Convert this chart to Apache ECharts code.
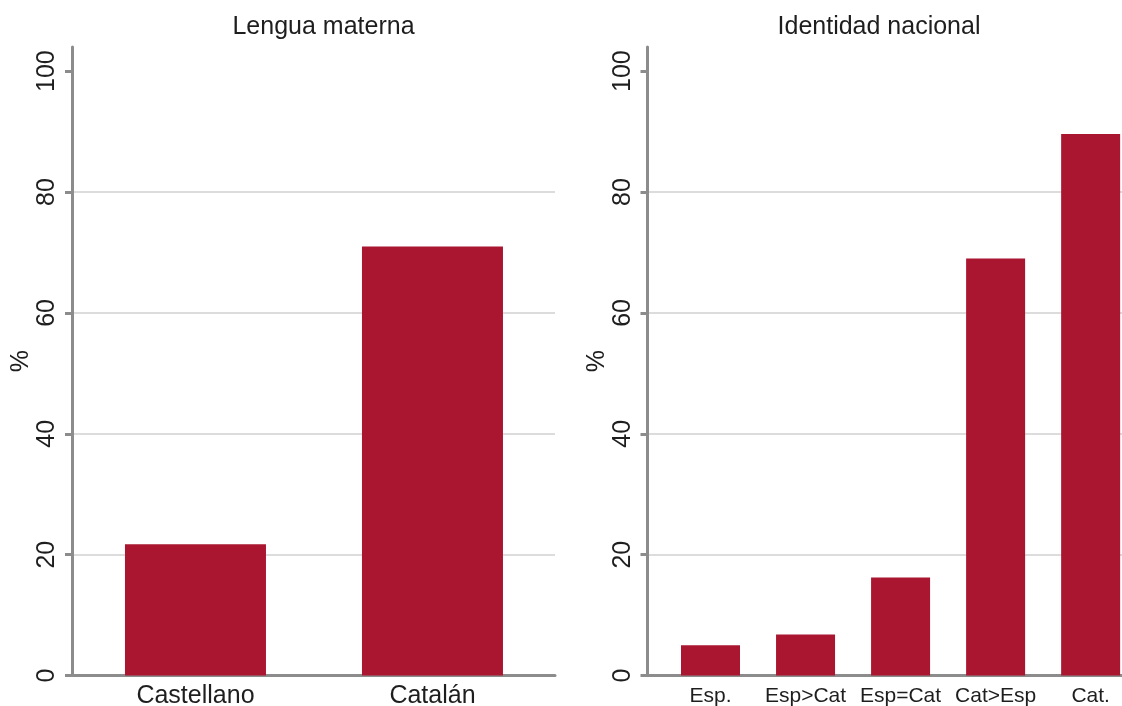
<!DOCTYPE html>
<html>
<head>
<meta charset="utf-8">
<script src="https://cdn.jsdelivr.net/npm/echarts@6/dist/echarts.min.js"></script>
<style>
html,body{margin:0;padding:0;background:#fff;}
#chart{width:1122px;height:706px;}
</style>
</head>
<body>
<div id="chart"></div>
<script>
// Data
const leftTitle = 'Lengua materna';
const rightTitle = 'Identidad nacional';
const leftCategories = ['Castellano', 'Catalán'];
const leftValues = [21.7, 71.0];
const rightCategories = ['Esp.', 'Esp>Cat', 'Esp=Cat', 'Cat>Esp', 'Cat.'];
const rightValues = [5.0, 6.8, 16.2, 69.0, 89.6];
const yTicks = [0, 20, 40, 60, 80, 100];
const yName = '%';

const FONT = "'Liberation Sans', Arial, Helvetica, sans-serif";
const BAR = '#AA162F';
const AXIS = '#8c8c8c';
const GRIDC = '#dcdcdc';
const TXT = '#1e1e1e';

function yAxisDef(gridIndex) {
  return {
    type: 'value', gridIndex: gridIndex, min: 0, max: 104, interval: 20,
    name: yName, nameLocation: 'middle', nameRotate: 90, nameGap: 38,
    nameTextStyle: {fontFamily: FONT, fontSize: 25, color: TXT},
    axisLine: {show: true, onZero: false, lineStyle: {color: AXIS, width: 3}},
    axisTick: {show: true, length: 7, customValues: yTicks, lineStyle: {color: AXIS, width: 3}},
    axisLabel: {customValues: yTicks, rotate: 90, margin: 12, fontFamily: FONT, fontSize: 25, color: TXT},
    splitLine: {show: true, showMinLine: false, showMaxLine: false,
      lineStyle: {color: [GRIDC, GRIDC, GRIDC, GRIDC, 'rgba(0,0,0,0)'], width: 2}}
  };
}

function xAxisDef(gridIndex, cats, min, max, fs, margin) {
  return {
    type: 'value', gridIndex: gridIndex, min: min, max: max,
    axisLine: {show: true, onZero: false, lineStyle: {color: AXIS, width: 3}},
    axisTick: {show: false},
    splitLine: {show: false},
    axisLabel: {
      customValues: cats.map((c, i) => i),
      formatter: v => cats[Math.round(v)] || '',
      fontFamily: FONT, fontSize: fs, color: TXT, margin: margin
    }
  };
}

const chart = echarts.init(document.getElementById('chart'), null, {renderer: 'canvas'});
chart.setOption({
  animation: false,
  backgroundColor: '#fff',
  grid: [
    {left: 72, right: 567, top: 47, bottom: 30.5, containLabel: false, outerBoundsMode: 'none'},
    {left: 647.5, right: 0, top: 47, bottom: 30.5, containLabel: false, outerBoundsMode: 'none'}
  ],
  xAxis: [
    xAxisDef(0, leftCategories, -0.521, 1.517, 25, 8),
    xAxisDef(1, rightCategories, -0.663, 4.33, 21, 10)
  ],
  yAxis: [yAxisDef(0), yAxisDef(1)],
  graphic: [
    {type: 'text', x: 323.5, y: 27.5, style: {text: leftTitle, align: 'center', verticalAlign: 'middle', font: '25px ' + FONT, fill: TXT}},
    {type: 'text', x: 879, y: 27.5, style: {text: rightTitle, align: 'center', verticalAlign: 'middle', font: '25px ' + FONT, fill: TXT}}
  ],
  series: [
    {type: 'bar', xAxisIndex: 0, yAxisIndex: 0, barWidth: 141,
     itemStyle: {color: BAR},
     data: leftValues.map((v, i) => [i, v])},
    {type: 'bar', xAxisIndex: 1, yAxisIndex: 1, barWidth: 59,
     itemStyle: {color: BAR},
     data: rightValues.map((v, i) => [i, v])}
  ]
});
</script>
</body>
</html>
